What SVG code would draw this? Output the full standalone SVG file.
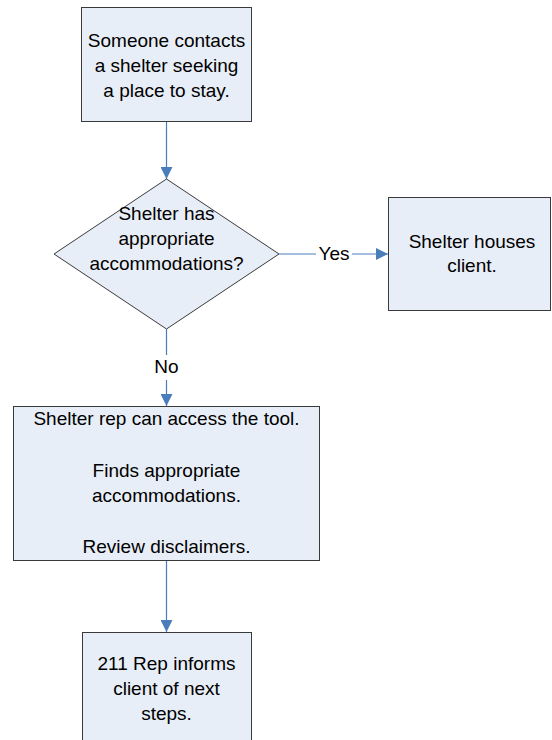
<svg xmlns="http://www.w3.org/2000/svg" width="552" height="740" viewBox="0 0 552 740">
<style>
.node{fill:#E8EEF7;stroke:#3a3a3a;stroke-width:1}
.t{font-family:"Liberation Sans",Arial,sans-serif;font-size:19px;fill:#000;text-anchor:middle}
.c{stroke:#4A7EBB;stroke-width:1.2;fill:none}
</style>
<defs>
<marker id="ah" viewBox="0 0 12 12" refX="12" refY="6" markerWidth="12" markerHeight="12" markerUnits="userSpaceOnUse" orient="auto">
<path d="M0,0 L12,6 L0,12 Z" fill="#4A7EBB"/>
</marker>
</defs>
<rect width="552" height="740" fill="#fff"/>
<g id="connectors">
<line class="c" x1="166.5" y1="122" x2="166.5" y2="179" marker-end="url(#ah)"/>
<line class="c" x1="279" y1="254" x2="388" y2="254" marker-end="url(#ah)"/>
<line class="c" x1="166.5" y1="329" x2="166.5" y2="355"/>
<line class="c" x1="166.5" y1="380" x2="166.5" y2="406" marker-end="url(#ah)"/>
<line class="c" x1="166.5" y1="561" x2="166.5" y2="632" marker-end="url(#ah)"/>
<rect x="316" y="244" width="36" height="20" fill="#fff"/>
<text class="t" x="334" y="260">Yes</text>
<text class="t" x="166.5" y="373">No</text>
</g>
<g id="start">
<rect class="node" x="81.5" y="7.5" width="170" height="114"/>
<text class="t" x="166.5" y="47">Someone contacts</text>
<text class="t" x="166.5" y="72">a shelter seeking</text>
<text class="t" x="166.5" y="97">a place to stay.</text>
</g>
<g id="decision">
<polygon class="node" points="166.5,179 279,254 166.5,329 54,254"/>
<text class="t" x="166.5" y="220">Shelter has</text>
<text class="t" x="166.5" y="245">appropriate</text>
<text class="t" x="166.5" y="270">accommodations?</text>
</g>
<g id="houses">
<rect class="node" x="388.5" y="197.5" width="162" height="113"/>
<text class="t" x="472" y="248">Shelter houses</text>
<text class="t" x="472" y="272">client.</text>
</g>
<g id="access">
<rect class="node" x="13.5" y="406.5" width="306" height="154"/>
<text class="t" x="166.5" y="425">Shelter rep can access the tool.</text>
<text class="t" x="166.5" y="477">Finds appropriate</text>
<text class="t" x="166.5" y="502">accommodations.</text>
<text class="t" x="166.5" y="553">Review disclaimers.</text>
</g>
<g id="inform">
<rect class="node" x="82.5" y="632.5" width="169" height="120"/>
<text class="t" x="166.5" y="670">211 Rep informs</text>
<text class="t" x="166.5" y="695">client of next</text>
<text class="t" x="166.5" y="720">steps.</text>
</g>
</svg>
